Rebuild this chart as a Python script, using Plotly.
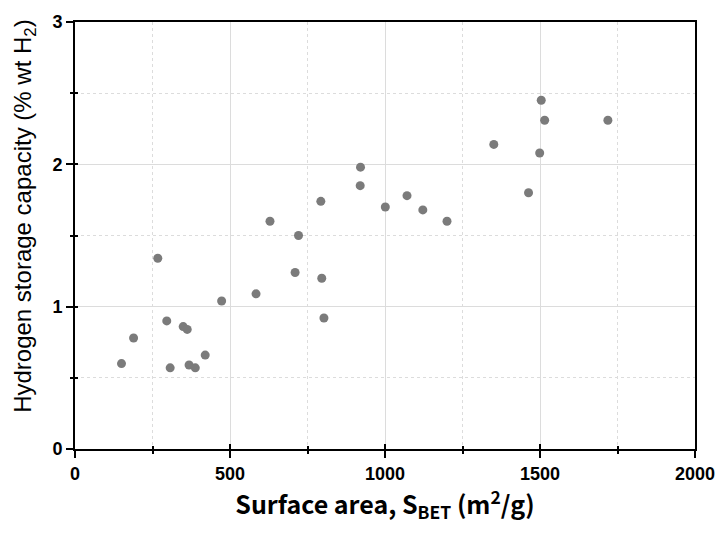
import plotly.graph_objects as go

surface_area = [150, 189, 267, 296, 307, 349, 362, 368, 388, 420, 473, 584, 629,
                710, 721, 793, 796, 803, 921, 920, 1001, 1071, 1122, 1200, 1351,
                1463, 1499, 1504, 1515, 1719]
h2_capacity = [0.60, 0.78, 1.34, 0.90, 0.57, 0.86, 0.84, 0.59, 0.57, 0.66, 1.04, 1.09, 1.60,
               1.24, 1.50, 1.74, 1.20, 0.92, 1.98, 1.85, 1.70, 1.78, 1.68, 1.60, 2.14,
               1.80, 2.08, 2.45, 2.31, 2.31]

x_range = [0, 2000]
y_range = [0, 3]

fig = go.Figure()
fig.add_trace(go.Scatter(
    x=surface_area, y=h2_capacity, mode="markers",
    marker=dict(color="#7b7b7b", size=9, line=dict(width=0)),
    showlegend=False, hoverinfo="x+y"))
# invisible trace to carry the inward tick axes
fig.add_trace(go.Scatter(x=[None], y=[None], xaxis="x2", yaxis="y2",
                         mode="markers", showlegend=False, hoverinfo="skip"))

tickfont = dict(family="Liberation Sans, Arial", size=18, color="black")

fig.update_layout(
    width=720, height=533,
    margin=dict(l=75, r=25, t=22, b=84, autoexpand=False),
    plot_bgcolor="white", paper_bgcolor="white",
    xaxis=dict(
        range=x_range, dtick=500, tick0=0, automargin=False,
        showline=True, linecolor="black", linewidth=2, mirror=True,
        ticks="outside", ticklen=7, tickwidth=2, tickcolor="black",
        showgrid=True, gridcolor="#dcdcdc", gridwidth=1,
        minor=dict(dtick=250, showgrid=True, gridcolor="#dcdcdc", griddash="dot",
                   ticks="outside", ticklen=3, tickwidth=2, tickcolor="black"),
        zeroline=False,
        tickfont=tickfont, tickprefix="<b>", ticksuffix="</b>",
        title=dict(text="<b>Surface area, S<sub>BET</sub> (m<sup>2</sup>/g)</b>",
                   font=dict(family="Noto Sans CJK JP, Noto Sans", size=25, color="black"),
                   standoff=12),
    ),
    yaxis=dict(
        range=y_range, dtick=1, tick0=0, automargin=False,
        showline=True, linecolor="black", linewidth=2, mirror=True,
        ticks="outside", ticklen=7, tickwidth=2, tickcolor="black",
        showgrid=True, gridcolor="#dcdcdc", gridwidth=1,
        minor=dict(dtick=0.5, showgrid=True, gridcolor="#dcdcdc", griddash="dot",
                   ticks="outside", ticklen=3, tickwidth=2, tickcolor="black"),
        zeroline=False,
        tickfont=tickfont, tickprefix="<b>", ticksuffix="</b>",
    ),
    xaxis2=dict(
        range=x_range, overlaying="x", anchor="y", side="bottom", automargin=False,
        dtick=500, tick0=0, showline=False, showgrid=False, zeroline=False,
        ticks="inside", ticklen=5, tickwidth=2, tickcolor="black",
        showticklabels=False,
        minor=dict(dtick=250, ticks="inside", ticklen=3, tickwidth=2, tickcolor="black"),
    ),
    yaxis2=dict(
        range=y_range, overlaying="y", anchor="x", side="left", automargin=False,
        dtick=1, tick0=0, showline=False, showgrid=False, zeroline=False,
        ticks="inside", ticklen=3, tickwidth=2, tickcolor="black",
        showticklabels=False,
        minor=dict(dtick=0.5, ticks="inside", ticklen=3, tickwidth=2, tickcolor="black"),
    ),
    annotations=[dict(
        text="Hydrogen storage capacity (% wt H<sub>2</sub>)",
        xref="paper", yref="paper", x=0, y=0.546, xshift=-50,
        xanchor="center", yanchor="middle", textangle=-90, showarrow=False,
        font=dict(family="Liberation Sans, Arial", size=24, color="black"),
    )],
)

fig.write_html("out.html")
